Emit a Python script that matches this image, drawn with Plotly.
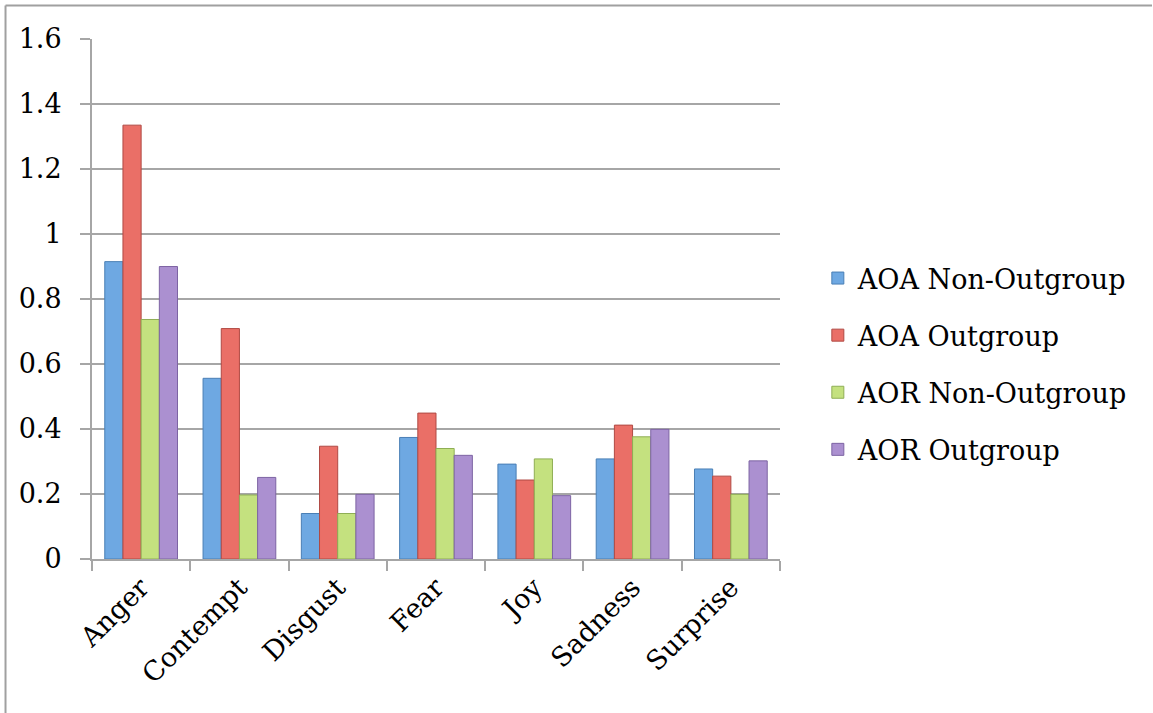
import plotly.graph_objects as go

categories = ["Anger", "Contempt", "Disgust", "Fear", "Joy", "Sadness", "Surprise"]
aoa_non_outgroup = [0.915, 0.556, 0.14, 0.374, 0.292, 0.308, 0.277]
aoa_outgroup = [1.335, 0.709, 0.347, 0.449, 0.243, 0.412, 0.255]
aor_non_outgroup = [0.737, 0.197, 0.14, 0.34, 0.308, 0.376, 0.199]
aor_outgroup = [0.90, 0.251, 0.199, 0.319, 0.195, 0.399, 0.302]

series_names = ["AOA Non-Outgroup", "AOA Outgroup", "AOR Non-Outgroup", "AOR Outgroup"]
series_values = [aoa_non_outgroup, aoa_outgroup, aor_non_outgroup, aor_outgroup]
colors = ["#6ea8e2", "#ea6f67", "#c4e17f", "#ab90d0"]
edges = ["#4a7fb5", "#b04a44", "#8fae55", "#7d64a3"]

FONT = "DejaVu Serif"
SIZE = 27

fig = go.Figure()
for i, (name, vals) in enumerate(zip(series_names, series_values)):
    fig.add_trace(go.Bar(
        x=categories, y=vals, name=name, legendgroup=name,
        marker=dict(color=colors[i], line=dict(color=edges[i], width=1)),
    ))

fig.update_layout(
    width=1153, height=713,
    margin=dict(l=92, r=373, t=39, b=154),
    paper_bgcolor="white", plot_bgcolor="white",
    barmode="group", bargap=0.26, bargroupgap=0,
    font=dict(family=FONT, size=SIZE, color="black"),
    showlegend=True,
    legend=dict(x=1.055, xanchor="left", y=0.375, yanchor="middle",
                font=dict(family=FONT, size=SIZE, color="black"),
                tracegroupgap=19, bgcolor="rgba(0,0,0,0)"),
    shapes=[
        dict(type="line", xref="paper", yref="paper", x0=-0.1257, x1=-0.1257,
             y0=1.0644, y1=-0.30, line=dict(color="#a0a0a0", width=2)),
        dict(type="line", xref="paper", yref="paper", x0=-0.1257, x1=1.5407,
             y0=1.0644, y1=1.0644, line=dict(color="#a0a0a0", width=2)),
    ],
)

fig.update_yaxes(
    range=[0, 1.6001], dtick=0.2, tick0=0,
    showgrid=True, gridcolor="#a6a6a6", gridwidth=2,
    zeroline=False, showline=True, linecolor="#a6a6a6", linewidth=2,
    ticks="outside", ticklen=10, tickcolor="#a6a6a6", tickwidth=2,
    ticklabelstandoff=13,
    tickfont=dict(family=FONT, size=SIZE, color="black"),
)
fig.update_xaxes(
    showgrid=False, showline=True, linecolor="#a6a6a6", linewidth=2,
    ticks="outside", ticklen=10, tickcolor="#a6a6a6", tickwidth=2,
    tickson="boundaries", tickangle=-45,
    tickfont=dict(family=FONT, size=SIZE, color="black"),
)

fig.write_html("out.html")
